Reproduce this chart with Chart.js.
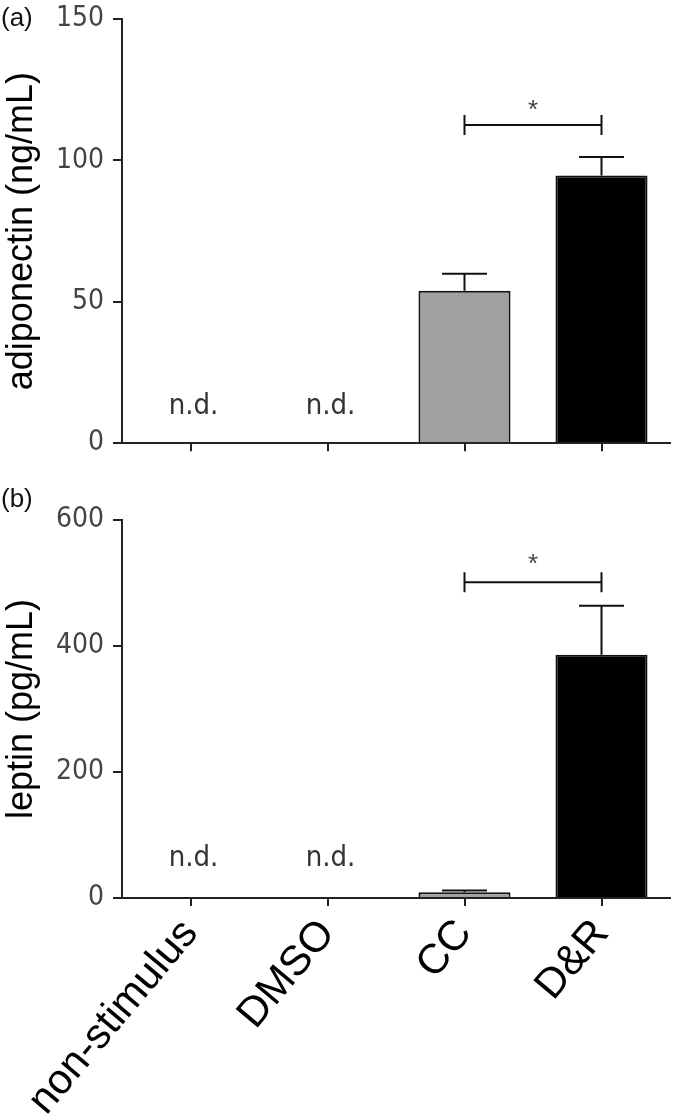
<!DOCTYPE html>
<html>
<head>
<meta charset="utf-8">
<script src="https://cdn.jsdelivr.net/npm/chart.js@4/dist/chart.umd.min.js"></script>
<style>
  html, body { margin: 0; padding: 0; background: #fff; overflow: hidden; }
  #wrapA { position: absolute; left: 0; top: -8px; width: 680px; height: 477px; }
  #wrapB { position: absolute; left: 0; top: 470px; width: 680px; height: 649px; }
</style>
</head>
<body>
<div id="wrapA"><canvas id="chartA" width="680" height="477"></canvas></div>
<div id="wrapB"><canvas id="chartB" width="680" height="649"></canvas></div>
<script>
// ---- data ----
const categories = ['non-stimulus', 'DMSO', 'CC', 'D&R'];
const adiponectin = [null, null, 53.9, 94.7];      // ng/mL, null = n.d.
const adiponectinErr = [null, null, 6.0, 6.5];
const leptin = [null, null, 9, 386];               // pg/mL, null = n.d.
const leptinErr = [null, null, 3, 78];
const yTicksA = [0, 50, 100, 150];
const yTicksB = [0, 200, 400, 600];
const sigPairA = [2, 3];
const sigLevelA = 112.5;
const sigPairB = [2, 3];
const sigLevelB = 501;

// ---- styles ----
const barFill = ['#a0a0a0', '#a0a0a0', '#a0a0a0', '#000000'];
const axisColor = '#222';
const narrowFamily = "'Liberation Sans Narrow', 'DejaVu Sans Condensed', 'Liberation Sans', sans-serif";
const tickFont = { family: narrowFamily, size: 28 };
const tickColor = '#444';

const extrasPlugin = {
  id: 'extras',
  afterDatasetsDraw(chart, args, opts) {
    const ctx = chart.ctx;
    const xs = chart.scales.x, ys = chart.scales.y;
    const meta = chart.getDatasetMeta(0);
    const vals = chart.data.datasets[0].data;
    ctx.save();
    ctx.strokeStyle = '#111';
    ctx.lineWidth = 2;
    // error bars
    vals.forEach((v, i) => {
      if (v === null || v === undefined) return;
      const e = opts.errors[i];
      const x = meta.data[i].x;
      const yTop = ys.getPixelForValue(v);
      const yErr = ys.getPixelForValue(v + e);
      ctx.beginPath();
      ctx.moveTo(x, yTop);
      ctx.lineTo(x, yErr);
      ctx.moveTo(x - 22.5, yErr);
      ctx.lineTo(x + 22.5, yErr);
      ctx.stroke();
    });
    // n.d. labels
    ctx.fillStyle = '#333';
    ctx.font = "29px " + narrowFamily;
    ctx.textAlign = 'center';
    ctx.textBaseline = 'middle';
    vals.forEach((v, i) => {
      if (v !== null && v !== undefined) return;
      const x = xs.getPixelForValue(i) + 3;
      const y = ys.getPixelForValue(0) - opts.ndOffset;
      ctx.fillText('n.d.', x, y);
    });
    // significance bracket
    const [a, b] = opts.sigPair;
    const xa = xs.getPixelForValue(a), xb = xs.getPixelForValue(b);
    const yl = ys.getPixelForValue(opts.sigLevel);
    ctx.beginPath();
    ctx.moveTo(xa, yl); ctx.lineTo(xb, yl);
    ctx.moveTo(xa, yl - 10); ctx.lineTo(xa, yl + 10);
    ctx.moveTo(xb, yl - 10); ctx.lineTo(xb, yl + 10);
    ctx.stroke();
    ctx.fillStyle = '#444';
    ctx.font = "26px 'Liberation Sans', sans-serif";
    ctx.textBaseline = 'middle';
    ctx.fillText('*', (xa + xb) / 2, yl - opts.starOffset);
    // panel label
    ctx.fillStyle = '#111';
    ctx.font = "26px 'Liberation Sans', sans-serif";
    ctx.textAlign = 'left';
    ctx.fillText(opts.panel, 1, opts.panelY);
    ctx.restore();
  }
};

function makeChart(id, values, errors, ticks, yTitle, opts) {
  return new Chart(document.getElementById(id), {
    type: 'bar',
    data: {
      labels: categories,
      datasets: [{
        data: values,
        backgroundColor: barFill,
        borderColor: '#111',
        borderWidth: 2,
        borderSkipped: 'bottom',
        categoryPercentage: 1,
        barPercentage: 0.672
      }]
    },
    options: {
      responsive: false,
      animation: false,
      devicePixelRatio: 1,
      layout: { padding: { top: opts.padTop, right: 10, left: 0, bottom: 0 } },
      plugins: {
        legend: { display: false },
        tooltip: { enabled: false },
        extras: {
          errors: errors,
          sigPair: opts.sigPair,
          sigLevel: opts.sigLevel,
          ndOffset: opts.ndOffset,
          starOffset: opts.starOffset,
          panel: opts.panel,
          panelY: opts.panelY
        }
      },
      scales: {
        x: {
          type: 'category',
          offset: true,
          grid: { display: true, offset: false, drawOnChartArea: false, drawTicks: true, tickLength: 8, color: axisColor, lineWidth: 2 },
          border: { display: true, color: axisColor, width: 2 },
          ticks: {
            display: opts.showX,
            autoSkip: false,
            minRotation: 50,
            maxRotation: 50,
            padding: 4,
            color: '#000',
            font: { family: "'Liberation Sans', Arial, sans-serif", size: 42 }
          },
          afterFit(scale) { scale.height = opts.xHeight; }
        },
        y: {
          min: ticks[0],
          max: ticks[ticks.length - 1],
          afterBuildTicks(scale) { scale.ticks = ticks.map(v => ({ value: v })); },
          grid: { display: true, drawOnChartArea: false, drawTicks: true, tickLength: 9, color: axisColor, lineWidth: 2 },
          border: { display: true, color: axisColor, width: 2 },
          ticks: { color: tickColor, font: tickFont, padding: 9 },
          title: {
            display: true,
            text: yTitle,
            color: '#000',
            font: { family: "'Liberation Sans', Arial, sans-serif", size: 36 },
            padding: { top: 0, bottom: 0 }
          },
          afterFit(scale) { scale.width = 122; }
        }
      }
    },
    plugins: [extrasPlugin]
  });
}

makeChart('chartA', adiponectin, adiponectinErr, yTicksA, 'adiponectin (ng/mL)', {
  padTop: 27, xHeight: 20, showX: false, sigPair: sigPairA, sigLevel: sigLevelA,
  ndOffset: 37, starOffset: 14, panel: '(a)', panelY: 27
});
makeChart('chartB', leptin, leptinErr, yTicksB, 'leptin (pg/mL)', {
  padTop: 50, xHeight: 221, showX: true, sigPair: sigPairB, sigLevel: sigLevelB,
  ndOffset: 40, starOffset: 18, panel: '(b)', panelY: 30
});
</script>
</body>
</html>
